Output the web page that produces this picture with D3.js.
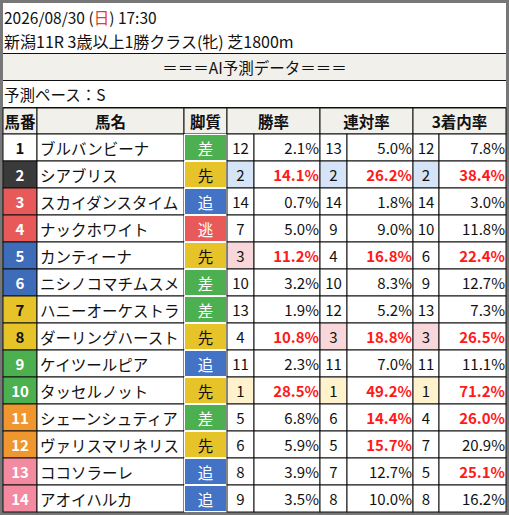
<!DOCTYPE html><html><head><meta charset="utf-8"><script src="https://cdn.jsdelivr.net/npm/d3@7"></script>
<style>body{margin:0;background:#fff}</style></head><body><svg id="c" width="509" height="515"></svg><script>
const numbers=[1,2,3,4,5,6,7,8,9,10,11,12,13,14];
const names=["ブルバンビーナ","シアブリス","スカイダンスタイム","ナックホワイト","カンティーナ","ニシノコマチムスメ","ハニーオーケストラ","ダーリングハースト","ケイツールピア","タッセルノット","シェーンシュティア","ヴァリスマリネリス","ココソラーレ","アオイハルカ"];
const styles=["差","先","追","逃","先","差","差","先","追","先","差","先","追","追"];
const winRank=[12,2,14,7,3,10,13,4,11,1,5,6,8,9];
const winPct=[2.1,14.1,0.7,5.0,11.2,3.2,1.9,10.8,2.3,28.5,6.8,5.9,3.9,3.5];
const renRank=[13,2,14,9,4,10,12,3,11,1,6,5,7,8];
const renPct=[5.0,26.2,1.8,9.0,16.8,8.3,5.2,18.8,7.0,49.2,14.4,15.7,12.7,10.0];
const fukuRank=[12,2,14,10,6,9,13,3,11,1,4,7,5,8];
const fukuPct=[7.8,38.4,3.0,11.8,22.4,12.7,7.3,26.5,11.1,71.2,26.0,20.9,25.1,16.2];
const headers=["馬番","馬名","脚質","勝率","連対率","3着内率"];
const svg=d3.select("#c");
const F="'Noto Sans CJK JP','Noto Sans',sans-serif";
const wakuCol=["#ffffff","#3a3a3a","#e85a5a","#3f6cb9","#e6c329","#4caf50","#f0962e","#f38aa0"];
const waku=[1,2,3,3,4,4,5,5,6,6,7,7,8,8];
const styleCol={"差":"#4caf50","先":"#e6c329","追":"#4472c4","逃":"#e85a5a"};
const rankBg={1:"#fff2cc",2:"#d6e4f8",3:"#f8d7da"};
const cx=[3,37,184,227,254,320,347,413,439,506];
const y0=134,rh=27;
const y=d3.scaleLinear().domain([0,14]).range([y0,y0+14*rh]);
svg.append("rect").attr("x",1.5).attr("y",1.5).attr("width",506).attr("height",512).attr("fill","#fff").attr("stroke","#777").attr("stroke-width",3);
const t=(x,yy,s,o={})=>svg.append("text").attr("x",x).attr("y",yy).text(s).attr("font-family",F).attr("font-size",o.fs||14).attr("text-anchor",o.a||"start").attr("dominant-baseline","central").attr("font-weight",o.b?"bold":"normal").attr("fill",o.c||"#111");
const tt=t(4,17,"2026/08/30 (",{fs:15.5});tt.append("tspan").attr("fill","#e53935").text("日");tt.append("tspan").text(") 17:30");
t(4,41,"新潟11R 3歳以上1勝クラス(牝) 芝1800m",{fs:16});
svg.append("rect").attr("x",3).attr("y",54).attr("width",503).attr("height",26).attr("fill","#f2f0eb");
[53.5,80.5,107.5,134.5].forEach(v=>svg.append("line").attr("x1",3).attr("x2",506).attr("y1",v).attr("y2",v).attr("stroke","#111"));
t(254.5,67,"＝＝＝AI予測データ＝＝＝",{a:"middle",fs:15.5});
t(4,94,"予測ペース：S",{fs:15.5});
const hx=[[3,37],[37,184],[184,227],[227,320],[320,413],[413,506]];
hx.forEach((h,i)=>{svg.append("rect").attr("x",h[0]).attr("y",108).attr("width",h[1]-h[0]).attr("height",26).attr("fill","#f2f0eb").attr("stroke","#111");
 t((h[0]+h[1])/2,121,headers[i],{a:"middle",b:true,fs:15.5});});
const thr=[10,14,22];
numbers.forEach((n,i)=>{
 const top=y(i),mid=top+rh/2,w=waku[i]-1;
 const cell=(x0,x1,f)=>svg.append("rect").attr("x",x0).attr("y",top).attr("width",x1-x0).attr("height",rh).attr("fill",f).attr("stroke","#111");
 cell(cx[0],cx[1],wakuCol[w]);
 t((cx[0]+cx[1])/2,mid,n,{a:"middle",b:true,fs:15,c:(w===0||w===4)?"#111":"#fff"});
 cell(cx[1],cx[2],"#fff");t(cx[1]+3,mid,names[i],{fs:15.5});
 svg.append("rect").attr("x",cx[2]+0.5).attr("y",top+0.5).attr("width",cx[3]-cx[2]-1).attr("height",rh-1).attr("fill",styleCol[styles[i]]).attr("stroke","#fff");
 t((cx[2]+cx[3])/2,mid,styles[i],{a:"middle",fs:15.5,c:styles[i]==="先"?"#111":"#fff"});
 [[winRank,winPct],[renRank,renPct],[fukuRank,fukuPct]].forEach((p,k)=>{
  const a=cx[3+2*k],b=cx[4+2*k],c=cx[5+2*k],r=p[0][i],v=p[1][i];
  cell(a,b,rankBg[r]||"#fff");t((a+b)/2,mid,r,{a:"middle",fs:15});
  cell(b,c,"#fff");const red=v>=thr[k];
  t(c-1,mid,v.toFixed(1)+"%",{a:"end",fs:15,b:red,c:red?"#ff1a1a":"#111"});
 });
});
</script></body></html>
